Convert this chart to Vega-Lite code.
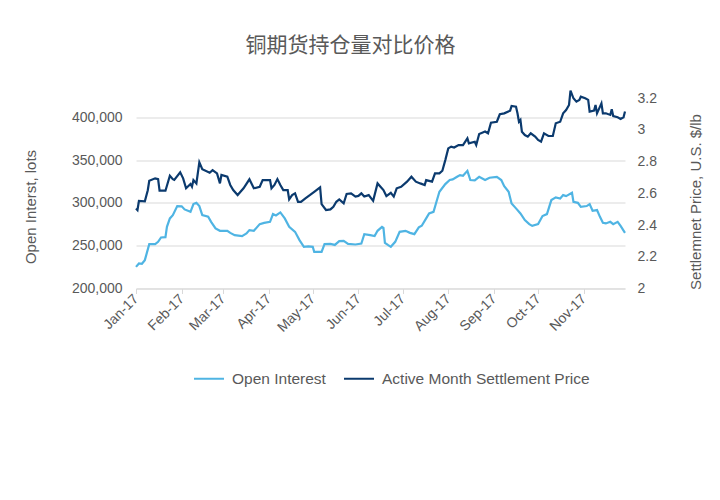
{
  "$schema": "https://vega.github.io/schema/vega-lite/v6.json",
  "width": 489,
  "height": 214,
  "autosize": {"type": "none"},
  "padding": {"left": 136, "top": 74.5, "right": 95, "bottom": 211.5},
  "background": "white",
  "title": {"text": "铜期货持仓量对比价格", "font": "Noto Sans CJK SC", "fontSize": 21, "fontWeight": "normal", "color": "#595959", "offset": 19, "dx": -30, "anchor": "middle"},
  "config": {"view": {"stroke": null}, "font": "Liberation Sans"},
  "datasets": {
    "oi": [
      {"date": "2017-01-01", "value": 225260}, {"date": "2017-01-03", "value": 229240}, {"date": "2017-01-05", "value": 228900}, {"date": "2017-01-07", "value": 233100},
      {"date": "2017-01-10", "value": 251800}, {"date": "2017-01-14", "value": 251800}, {"date": "2017-01-16", "value": 254500}, {"date": "2017-01-18", "value": 259600},
      {"date": "2017-01-21", "value": 260000}, {"date": "2017-01-22", "value": 272000}, {"date": "2017-01-24", "value": 281900}, {"date": "2017-01-26", "value": 285700},
      {"date": "2017-01-29", "value": 296300}, {"date": "2017-02-01", "value": 296000}, {"date": "2017-02-03", "value": 292400}, {"date": "2017-02-07", "value": 289600},
      {"date": "2017-02-09", "value": 298600}, {"date": "2017-02-11", "value": 300100}, {"date": "2017-02-13", "value": 296300}, {"date": "2017-02-15", "value": 285700},
      {"date": "2017-02-19", "value": 284000}, {"date": "2017-02-21", "value": 277900}, {"date": "2017-02-24", "value": 270200}, {"date": "2017-02-27", "value": 267400},
      {"date": "2017-03-04", "value": 267400}, {"date": "2017-03-06", "value": 265000}, {"date": "2017-03-09", "value": 262300}, {"date": "2017-03-14", "value": 261200},
      {"date": "2017-03-17", "value": 264300}, {"date": "2017-03-19", "value": 268200}, {"date": "2017-03-22", "value": 267400}, {"date": "2017-03-26", "value": 275200},
      {"date": "2017-03-29", "value": 276700}, {"date": "2017-04-02", "value": 277900}, {"date": "2017-04-04", "value": 286900}, {"date": "2017-04-06", "value": 285300},
      {"date": "2017-04-09", "value": 288900}, {"date": "2017-04-12", "value": 281900}, {"date": "2017-04-15", "value": 272000}, {"date": "2017-04-19", "value": 266200},
      {"date": "2017-04-22", "value": 256500}, {"date": "2017-04-25", "value": 248700}, {"date": "2017-04-28", "value": 249100}, {"date": "2017-05-01", "value": 248700},
      {"date": "2017-05-02", "value": 242800}, {"date": "2017-05-07", "value": 242800}, {"date": "2017-05-09", "value": 251800}, {"date": "2017-05-13", "value": 252200},
      {"date": "2017-05-16", "value": 250900}, {"date": "2017-05-19", "value": 255300}, {"date": "2017-05-22", "value": 255700}, {"date": "2017-05-25", "value": 252200},
      {"date": "2017-05-30", "value": 251400}, {"date": "2017-06-03", "value": 252600}, {"date": "2017-06-05", "value": 263500}, {"date": "2017-06-09", "value": 262300},
      {"date": "2017-06-12", "value": 261200}, {"date": "2017-06-14", "value": 267400}, {"date": "2017-06-17", "value": 272000}, {"date": "2017-06-18", "value": 270800},
      {"date": "2017-06-19", "value": 253400}, {"date": "2017-06-21", "value": 250900}, {"date": "2017-06-23", "value": 248700}, {"date": "2017-06-26", "value": 254500},
      {"date": "2017-06-29", "value": 266200}, {"date": "2017-07-03", "value": 267400}, {"date": "2017-07-06", "value": 265000}, {"date": "2017-07-09", "value": 263500},
      {"date": "2017-07-12", "value": 271400}, {"date": "2017-07-14", "value": 273300}, {"date": "2017-07-17", "value": 281900}, {"date": "2017-07-19", "value": 287700},
      {"date": "2017-07-22", "value": 289600}, {"date": "2017-07-24", "value": 301300}, {"date": "2017-07-26", "value": 313000}, {"date": "2017-07-30", "value": 322000},
      {"date": "2017-08-02", "value": 326700}, {"date": "2017-08-04", "value": 327400}, {"date": "2017-08-07", "value": 330500}, {"date": "2017-08-09", "value": 332500},
      {"date": "2017-08-11", "value": 331700}, {"date": "2017-08-14", "value": 337500}, {"date": "2017-08-16", "value": 326700}, {"date": "2017-08-19", "value": 326300},
      {"date": "2017-08-22", "value": 330500}, {"date": "2017-08-26", "value": 326700}, {"date": "2017-08-29", "value": 329400}, {"date": "2017-09-03", "value": 330500},
      {"date": "2017-09-06", "value": 326700}, {"date": "2017-09-08", "value": 319600}, {"date": "2017-09-11", "value": 313000}, {"date": "2017-09-13", "value": 299400},
      {"date": "2017-09-16", "value": 293600}, {"date": "2017-09-19", "value": 287700}, {"date": "2017-09-22", "value": 279900}, {"date": "2017-09-25", "value": 275200},
      {"date": "2017-09-27", "value": 273100}, {"date": "2017-10-01", "value": 275200}, {"date": "2017-10-04", "value": 284600}, {"date": "2017-10-07", "value": 286900},
      {"date": "2017-10-10", "value": 303300}, {"date": "2017-10-13", "value": 306400}, {"date": "2017-10-16", "value": 305200}, {"date": "2017-10-18", "value": 309100},
      {"date": "2017-10-20", "value": 307900}, {"date": "2017-10-24", "value": 311800}, {"date": "2017-10-25", "value": 301300}, {"date": "2017-10-28", "value": 300100},
      {"date": "2017-10-30", "value": 295400}, {"date": "2017-11-03", "value": 296300}, {"date": "2017-11-05", "value": 298600}, {"date": "2017-11-07", "value": 290800},
      {"date": "2017-11-10", "value": 291600}, {"date": "2017-11-12", "value": 283700}, {"date": "2017-11-14", "value": 276700}, {"date": "2017-11-16", "value": 276000},
      {"date": "2017-11-19", "value": 277900}, {"date": "2017-11-21", "value": 275200}, {"date": "2017-11-24", "value": 277900}, {"date": "2017-11-26", "value": 273100},
      {"date": "2017-11-29", "value": 265000}
    ],
    "price": [
      {"date": "2017-01-01", "value": 2.505}, {"date": "2017-01-02", "value": 2.495}, {"date": "2017-01-03", "value": 2.553}, {"date": "2017-01-07", "value": 2.55},
      {"date": "2017-01-09", "value": 2.62}, {"date": "2017-01-10", "value": 2.68}, {"date": "2017-01-14", "value": 2.695}, {"date": "2017-01-16", "value": 2.69},
      {"date": "2017-01-17", "value": 2.617}, {"date": "2017-01-21", "value": 2.617}, {"date": "2017-01-24", "value": 2.711}, {"date": "2017-01-26", "value": 2.69},
      {"date": "2017-01-27", "value": 2.685}, {"date": "2017-01-31", "value": 2.733}, {"date": "2017-02-02", "value": 2.695}, {"date": "2017-02-04", "value": 2.632},
      {"date": "2017-02-07", "value": 2.659}, {"date": "2017-02-08", "value": 2.642}, {"date": "2017-02-09", "value": 2.684}, {"date": "2017-02-11", "value": 2.663},
      {"date": "2017-02-13", "value": 2.796}, {"date": "2017-02-15", "value": 2.752}, {"date": "2017-02-20", "value": 2.73}, {"date": "2017-02-22", "value": 2.747},
      {"date": "2017-02-25", "value": 2.726}, {"date": "2017-02-27", "value": 2.663}, {"date": "2017-02-28", "value": 2.716}, {"date": "2017-03-04", "value": 2.705},
      {"date": "2017-03-06", "value": 2.653}, {"date": "2017-03-08", "value": 2.621}, {"date": "2017-03-11", "value": 2.59}, {"date": "2017-03-15", "value": 2.632},
      {"date": "2017-03-19", "value": 2.689}, {"date": "2017-03-22", "value": 2.632}, {"date": "2017-03-26", "value": 2.642}, {"date": "2017-03-28", "value": 2.684},
      {"date": "2017-04-02", "value": 2.684}, {"date": "2017-04-03", "value": 2.632}, {"date": "2017-04-05", "value": 2.653}, {"date": "2017-04-07", "value": 2.69},
      {"date": "2017-04-09", "value": 2.653}, {"date": "2017-04-11", "value": 2.621}, {"date": "2017-04-14", "value": 2.621}, {"date": "2017-04-15", "value": 2.562},
      {"date": "2017-04-17", "value": 2.589}, {"date": "2017-04-19", "value": 2.6}, {"date": "2017-04-21", "value": 2.547}, {"date": "2017-04-23", "value": 2.547},
      {"date": "2017-04-26", "value": 2.569}, {"date": "2017-04-29", "value": 2.589}, {"date": "2017-05-02", "value": 2.61}, {"date": "2017-05-06", "value": 2.638},
      {"date": "2017-05-07", "value": 2.532}, {"date": "2017-05-10", "value": 2.495}, {"date": "2017-05-13", "value": 2.499}, {"date": "2017-05-15", "value": 2.516},
      {"date": "2017-05-17", "value": 2.547}, {"date": "2017-05-19", "value": 2.562}, {"date": "2017-05-22", "value": 2.537}, {"date": "2017-05-24", "value": 2.596},
      {"date": "2017-05-27", "value": 2.6}, {"date": "2017-05-30", "value": 2.58}, {"date": "2017-06-01", "value": 2.584}, {"date": "2017-06-03", "value": 2.6},
      {"date": "2017-06-05", "value": 2.58}, {"date": "2017-06-08", "value": 2.589}, {"date": "2017-06-11", "value": 2.553}, {"date": "2017-06-14", "value": 2.663},
      {"date": "2017-06-16", "value": 2.642}, {"date": "2017-06-18", "value": 2.621}, {"date": "2017-06-20", "value": 2.583}, {"date": "2017-06-23", "value": 2.604},
      {"date": "2017-06-25", "value": 2.58}, {"date": "2017-06-27", "value": 2.632}, {"date": "2017-06-30", "value": 2.642}, {"date": "2017-07-04", "value": 2.674},
      {"date": "2017-07-07", "value": 2.705}, {"date": "2017-07-10", "value": 2.674}, {"date": "2017-07-13", "value": 2.663}, {"date": "2017-07-16", "value": 2.653},
      {"date": "2017-07-17", "value": 2.684}, {"date": "2017-07-21", "value": 2.674}, {"date": "2017-07-23", "value": 2.726}, {"date": "2017-07-26", "value": 2.726},
      {"date": "2017-07-28", "value": 2.743}, {"date": "2017-07-30", "value": 2.81}, {"date": "2017-08-01", "value": 2.884}, {"date": "2017-08-03", "value": 2.895},
      {"date": "2017-08-05", "value": 2.889}, {"date": "2017-08-08", "value": 2.905}, {"date": "2017-08-11", "value": 2.905}, {"date": "2017-08-14", "value": 2.947},
      {"date": "2017-08-15", "value": 2.916}, {"date": "2017-08-19", "value": 2.926}, {"date": "2017-08-20", "value": 2.905}, {"date": "2017-08-22", "value": 2.975},
      {"date": "2017-08-26", "value": 2.99}, {"date": "2017-08-28", "value": 2.979}, {"date": "2017-08-30", "value": 3.046}, {"date": "2017-09-03", "value": 3.052},
      {"date": "2017-09-05", "value": 3.099}, {"date": "2017-09-08", "value": 3.105}, {"date": "2017-09-12", "value": 3.122}, {"date": "2017-09-13", "value": 3.152},
      {"date": "2017-09-16", "value": 3.147}, {"date": "2017-09-17", "value": 3.105}, {"date": "2017-09-18", "value": 3.052}, {"date": "2017-09-19", "value": 3.063},
      {"date": "2017-09-20", "value": 2.989}, {"date": "2017-09-22", "value": 2.968}, {"date": "2017-09-24", "value": 2.958}, {"date": "2017-09-26", "value": 2.979},
      {"date": "2017-09-29", "value": 2.958}, {"date": "2017-10-01", "value": 2.937}, {"date": "2017-10-03", "value": 2.926}, {"date": "2017-10-05", "value": 2.979},
      {"date": "2017-10-08", "value": 2.962}, {"date": "2017-10-11", "value": 2.962}, {"date": "2017-10-13", "value": 3.042}, {"date": "2017-10-16", "value": 3.052},
      {"date": "2017-10-18", "value": 3.105}, {"date": "2017-10-20", "value": 3.126}, {"date": "2017-10-22", "value": 3.158}, {"date": "2017-10-23", "value": 3.248},
      {"date": "2017-10-25", "value": 3.2}, {"date": "2017-10-27", "value": 3.179}, {"date": "2017-10-29", "value": 3.19}, {"date": "2017-10-30", "value": 3.21},
      {"date": "2017-11-02", "value": 3.2}, {"date": "2017-11-04", "value": 3.19}, {"date": "2017-11-05", "value": 3.116}, {"date": "2017-11-08", "value": 3.122},
      {"date": "2017-11-09", "value": 3.158}, {"date": "2017-11-10", "value": 3.105}, {"date": "2017-11-13", "value": 3.168}, {"date": "2017-11-14", "value": 3.105},
      {"date": "2017-11-16", "value": 3.105}, {"date": "2017-11-19", "value": 3.095}, {"date": "2017-11-20", "value": 3.131}, {"date": "2017-11-21", "value": 3.088},
      {"date": "2017-11-24", "value": 3.08}, {"date": "2017-11-26", "value": 3.07}, {"date": "2017-11-28", "value": 3.08}, {"date": "2017-11-29", "value": 3.116}
    ]
  },
  "layer": [
    {
      "data": {"name": "oi"},
      "mark": {"type": "line", "strokeWidth": 2.2},
      "encoding": {
        "x": {
          "field": "date", "type": "temporal",
          "scale": {"type": "utc", "domain": [{"year": 2017, "month": 1, "date": 1, "utc": true}, {"year": 2017, "month": 11, "date": 29, "utc": true}]},
          "axis": {
            "title": null, "format": "%b-%y", "grid": false,
            "values": [
              {"year": 2017, "month": 1, "date": 1, "utc": true}, {"year": 2017, "month": 2, "date": 1, "utc": true},
              {"year": 2017, "month": 3, "date": 1, "utc": true}, {"year": 2017, "month": 4, "date": 1, "utc": true},
              {"year": 2017, "month": 5, "date": 1, "utc": true}, {"year": 2017, "month": 6, "date": 1, "utc": true},
              {"year": 2017, "month": 7, "date": 1, "utc": true}, {"year": 2017, "month": 8, "date": 1, "utc": true},
              {"year": 2017, "month": 9, "date": 1, "utc": true}, {"year": 2017, "month": 10, "date": 1, "utc": true},
              {"year": 2017, "month": 11, "date": 1, "utc": true}
            ],
            "labelAngle": -45, "labelAlign": "right", "labelBaseline": "middle", "labelFontSize": 14, "labelColor": "#595959",
            "labelPadding": 3, "domainColor": "#d9d9d9", "tickColor": "#d9d9d9", "tickSize": 5, "labelOverlap": false
          }
        },
        "y": {
          "field": "value", "type": "quantitative",
          "scale": {"domain": [200000, 450000], "zero": false, "nice": false},
          "axis": {
            "title": "Open Interst, lots", "values": [200000, 250000, 300000, 350000, 400000], "format": ",.1~f",
            "grid": true, "gridColor": "#d9d9d9", "domain": false, "ticks": false, "labelPadding": 14,
            "labelFontSize": 14, "labelColor": "#595959", "titleFontSize": 15, "titleFontWeight": "normal", "titleColor": "#595959",
            "titleX": -106, "titleY": 132, "titleAngle": 270, "titleAlign": "center", "titleBaseline": "middle"
          }
        },
        "color": {
          "datum": "Open Interest",
          "scale": {"domain": ["Open Interest", "Active Month Settlement Price"], "range": ["#4fb4e3", "#0b3a6e"]},
          "legend": {
            "title": null, "orient": "none", "legendX": 57, "legendY": 288, "direction": "horizontal",
            "symbolType": "stroke", "symbolSize": 900, "symbolStrokeWidth": 2, "labelFontSize": 15.5, "labelColor": "#595959",
            "labelOffset": 7, "columnPadding": 14, "labelLimit": 0
          }
        }
      }
    },
    {
      "data": {"name": "price"},
      "mark": {"type": "line", "strokeWidth": 2.2},
      "encoding": {
        "x": {"field": "date", "type": "temporal"},
        "y": {
          "field": "value", "type": "quantitative",
          "scale": {"domain": [2, 3.35], "zero": false, "nice": false},
          "axis": {
            "orient": "right", "title": "Settlemnet Price, U.S. $/lb", "values": [2, 2.2, 2.4, 2.6, 2.8, 3, 3.2], "format": ",.1~f",
            "grid": false, "domain": false, "ticks": false, "labelPadding": 12,
            "labelFontSize": 14, "labelColor": "#595959", "titleFontSize": 15, "titleFontWeight": "normal", "titleColor": "#595959",
            "titleX": 70, "titleY": 127, "titleAngle": 270, "titleAlign": "center", "titleBaseline": "middle"
          }
        },
        "color": {"datum": "Active Month Settlement Price"}
      }
    }
  ],
  "resolve": {"scale": {"y": "independent"}}
}
